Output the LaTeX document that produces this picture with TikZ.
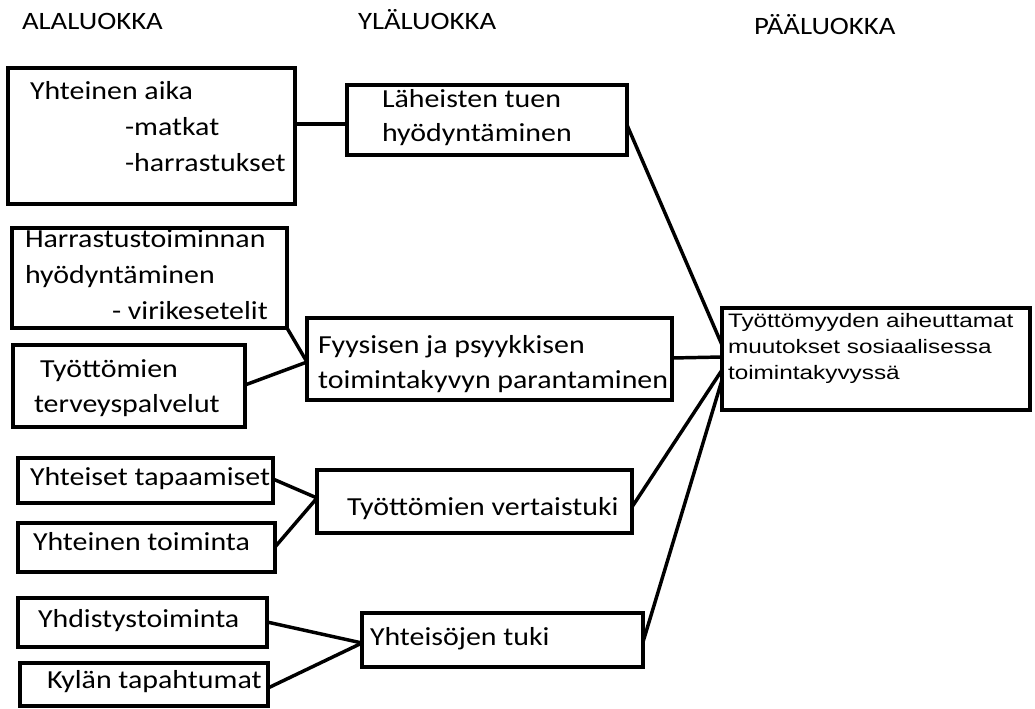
\documentclass[tikz,border=0pt]{standalone}
\usepackage{fontspec}
\setmainfont{Carlito}[FakeStretch=1.15]
\newfontfamily\arialf{Liberation Sans}[FakeStretch=1.25]
\usetikzlibrary{fit,calc}
\begin{document}
\begin{tikzpicture}[x=0.75pt,y=-0.75pt,
  box/.style={draw=black, line width=3pt, inner sep=0pt, outer sep=0pt},
  conn/.style={draw=black, line width=2.6pt},
  lbl/.style={anchor=base west, inner sep=0pt, outer sep=0pt, text=black, font=\fontsize{19.5}{23}\selectfont},
  hdr/.style={anchor=base west, inner sep=0pt, outer sep=0pt, text=black, font=\fontsize{18.75}{22}\selectfont},
  albl/.style={anchor=base west, inner sep=0pt, outer sep=0pt, text=black, font=\arialf\fontsize{14.6}{18}\selectfont}]
\useasboundingbox (0,0) rectangle (1035,709);
\fill[white] (0,0) rectangle (1035,709);

% headers
\node[hdr] (h1) at (22,30) {ALALUOKKA};
\node[hdr] (h2) at (358,30) {YLÄLUOKKA};
\node[hdr] (h3) at (754,35) {PÄÄLUOKKA};

% boxes
\node[box, fit={(8,68) (295,204)}] (b1) {};
\node[box, fit={(347,85) (627,155)}] (b2) {};
\node[box, fit={(12,228) (287,328)}] (b3) {};
\node[box, fit={(13,345) (245,427)}] (b4) {};
\node[box, fit={(307,318) (672,400)}] (b5) {};
\node[box, fit={(722,308) (1030,410)}] (b6) {};
\node[box, fit={(18,458) (273,503)}] (b7) {};
\node[box, fit={(18,523) (275,572)}] (b8) {};
\node[box, fit={(317,470) (632,533)}] (b9) {};
\node[box, fit={(18,598) (267,647)}] (b10) {};
\node[box, fit={(20,663) (268,706)}] (b11) {};
\node[box, fit={(362,613) (643,667)}] (b12) {};

% texts
\node[lbl] (t1a) at (30,100) {Yhteinen aika};
\node[lbl] (t1b) at (125,136) {-matkat};
\node[lbl] (t1c) at (125,172) {-harrastukset};
\node[lbl] (t2a) at (382,108) {Läheisten tuen};
\node[lbl] (t2b) at (382,142) {hyödyntäminen};
\node[lbl] (t3a) at (25,248) {Harrastustoiminnan};
\node[lbl] (t3b) at (25,284) {hyödyntäminen};
\node[lbl] (t3c) at (112,320) {- virikesetelit};
\node[lbl] (t4a) at (40,377) {Työttömien};
\node[lbl] (t4b) at (34,412) {terveyspalvelut};
\node[lbl] (t5a) at (318,353) {Fyysisen ja psyykkisen};
\node[lbl] (t5b) at (318,388) {toimintakyvyn parantaminen};
\node[albl] (t6a) at (728,327) {Työttömyyden aiheuttamat};
\node[albl] (t6b) at (728,353) {muutokset sosiaalisessa};
\node[albl] (t6c) at (728,379) {toimintakyvyssä};
\node[lbl] (t7) at (30,485) {Yhteiset tapaamiset};
\node[lbl] (t8) at (33,550) {Yhteinen toiminta};
\node[lbl] (t9) at (347,515) {Työttömien vertaistuki};
\node[lbl] (t10) at (38,627) {Yhdistystoiminta};
\node[lbl] (t11) at (47,688) {Kylän tapahtumat};
\node[lbl] (t12) at (370,645) {Yhteisöjen tuki};

% connectors
\draw[conn] ($(b1.north east)+(0,56)$) -- ($(b2.north west)+(0,39)$);
\draw[conn] ($(b2.north east)+(0,40)$) -- ($(b6.north west)+(0,37)$);
\draw[conn] (b3.south east) -- ($(b5.north west)+(0,44)$);
\draw[conn] ($(b4.north east)+(0,40)$) -- ($(b5.north west)+(0,44)$);
\draw[conn] ($(b5.north east)+(0,40)$) -- ($(b6.north west)+(0,49)$);
\draw[conn] ($(b7.north east)+(0,21)$) -- ($(b9.north west)+(0,28)$);
\draw[conn] ($(b8.north east)+(0,24)$) -- ($(b9.north west)+(0,28)$);
\draw[conn] ($(b9.north east)+(0,37)$) -- ($(b6.north west)+(0,62)$);
\draw[conn] ($(b10.north east)+(0,24)$) -- ($(b12.north west)+(0,30)$);
\draw[conn] ($(b11.north east)+(0,25)$) -- ($(b12.north west)+(0,30)$);
\draw[conn] ($(b12.north east)+(0,29)$) -- ($(b6.north west)+(0,72)$);
\end{tikzpicture}
\end{document}
